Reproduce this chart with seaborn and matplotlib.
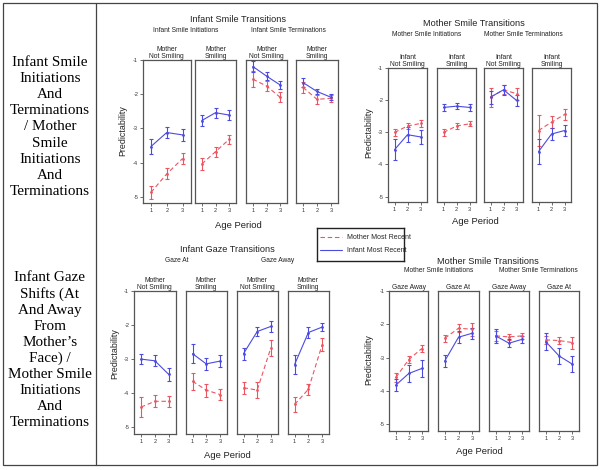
import numpy as np
import pandas as pd
import matplotlib
matplotlib.use("Agg")
import matplotlib.pyplot as plt
import seaborn as sns
from matplotlib.lines import Line2D
from matplotlib.patches import Rectangle

# ---------------------------------------------------------------
# Données : moyenne et demi-barre d'erreur
# ---------------------------------------------------------------
ages = [1, 2, 3]
sources = ["Mother Most Recent", "Infant Most Recent"]

# Infant Smile Transitions (haut gauche)
ist_labels = ["Mother\nNot Smiling", "Mother\nSmiling", "Mother\nNot Smiling", "Mother\nSmiling"]
ist_mother = [[-4.87, -4.33, -3.88], [-4.04, -3.68, -3.32], [-1.56, -1.76, -2.09], [-1.80, -2.15, -2.12]]
ist_mother_err = [[0.20, 0.16, 0.15], [0.17, 0.15, 0.13], [0.24, 0.15, 0.15], [0.15, 0.13, 0.10]]
ist_infant = [[-3.53, -3.12, -3.19], [-2.77, -2.54, -2.61], [-1.19, -1.47, -1.73], [-1.66, -1.92, -2.09]]
ist_infant_err = [[0.22, 0.17, 0.18], [0.17, 0.15, 0.14], [0.15, 0.11, 0.11], [0.13, 0.08, 0.09]]

# Mother Smile Transitions (haut droite)
mst_labels = ["Infant\nNot Smiling", "Infant\nSmiling", "Infant\nNot Smiling", "Infant\nSmiling"]
mst_mother = [[-3.00, -2.80, -2.72], [-3.00, -2.80, -2.73], [-1.90, -1.67, -1.79], [-2.94, -2.68, -2.44]]
mst_mother_err = [[0.10, 0.10, 0.10], [0.10, 0.08, 0.08], [0.30, 0.14, 0.19], [0.47, 0.18, 0.17]]
mst_infant = [[-3.54, -3.07, -3.14], [-2.22, -2.18, -2.22], [-1.90, -1.67, -2.00], [-3.60, -3.05, -2.94]]
mst_infant_err = [[0.32, 0.23, 0.22], [0.12, 0.10, 0.10], [0.20, 0.15, 0.16], [0.38, 0.18, 0.18]]

# Infant Gaze Transitions (bas gauche)
igt_labels = ["Mother\nNot Smiling", "Mother\nSmiling", "Mother\nNot Smiling", "Mother\nSmiling"]
igt_mother = [[-4.41, -4.24, -4.24], [-3.65, -3.91, -4.04], [-3.84, -3.91, -2.67], [-4.33, -3.89, -2.58]]
igt_mother_err = [[0.29, 0.18, 0.16], [0.25, 0.19, 0.17], [0.18, 0.23, 0.24], [0.21, 0.16, 0.19]]
igt_infant = [[-3.00, -3.05, -3.45], [-2.84, -3.14, -3.06], [-2.84, -2.19, -2.04], [-3.16, -2.22, -2.06]]
igt_infant_err = [[0.15, 0.16, 0.20], [0.27, 0.18, 0.17], [0.18, 0.14, 0.16], [0.29, 0.16, 0.12]]

# Mother Smile Transitions / regard (bas droite)
mgt_labels = ["Gaze Away", "Gaze At", "Gaze Away", "Gaze At"]
mgt_mother = [[-3.60, -3.06, -2.73], [-2.42, -2.12, -2.15], [-2.35, -2.38, -2.35], [-2.47, -2.49, -2.55]]
mgt_mother_err = [[0.13, 0.12, 0.10], [0.10, 0.12, 0.20], [0.14, 0.10, 0.10], [0.12, 0.10, 0.18]]
mgt_infant = [[-3.83, -3.48, -3.33], [-3.10, -2.39, -2.27], [-2.35, -2.57, -2.45], [-2.52, -2.95, -3.20]]
mgt_infant_err = [[0.18, 0.25, 0.26], [0.19, 0.18, 0.17], [0.20, 0.12, 0.10], [0.26, 0.24, 0.25]]

RED = "#EC5560"
BLUE = "#4B4BE2"
GREY = "#555555"
W, H = 602, 470

sns.set_theme(style="white")
plt.rcParams["font.family"] = ["Liberation Sans", "DejaVu Sans"]
plt.rcParams["axes.unicode_minus"] = False


def box(x0, x1, top, bottom):
    return [x0 / W, 1 - bottom / H, (x1 - x0) / W, (bottom - top) / H]


def ftext(x, y, s, **kw):
    fig.text(x / W, 1 - y / H, s, ha="center", va="center", **kw)


def draw_group(xs, top, bottom, ylim, labels, mother, merr, infant, ierr):
    axes = []
    for i, (x0, x1) in enumerate(xs):
        ax = fig.add_axes(box(x0, x1, top, bottom))
        df = pd.DataFrame({
            "Age": ages * 2,
            "Predictability": mother[i] + infant[i],
            "Source": [sources[0]] * 3 + [sources[1]] * 3,
        })
        sns.lineplot(data=df, x="Age", y="Predictability", hue="Source", style="Source",
                     palette={sources[0]: RED, sources[1]: BLUE},
                     dashes={sources[0]: (4, 2.5), sources[1]: ""},
                     linewidth=0.8, legend=False, ax=ax)
        ax.errorbar(ages, mother[i], yerr=merr[i], fmt="o", ms=1.0, color=RED,
                    elinewidth=0.8, capsize=1.6, capthick=0.8)
        ax.errorbar(ages, infant[i], yerr=ierr[i], fmt="o", ms=1.0, color=BLUE,
                    elinewidth=0.8, capsize=1.6, capthick=0.8)
        ax.set_xlim(0.5, 3.5)
        ax.set_ylim(*ylim)
        ax.set_xticks(ages)
        ax.set_yticks([-1, -2, -3, -4, -5])
        ax.set(xlabel="", ylabel="")
        ax.tick_params(axis="both", length=2, width=0.6, color=GREY, labelsize=4,
                       pad=1.5, labelcolor="#333333", bottom=True, left=(i == 0))
        if i > 0:
            ax.set_yticklabels([])
        for sp in ax.spines.values():
            sp.set_color(GREY)
            sp.set_linewidth(0.9)
        ax.text(0.5, 1.0, labels[i], transform=ax.transAxes, ha="center",
                va="bottom", fontsize=4.9, linespacing=0.95, color="#222222")
        axes.append(ax)
    return axes


fig = plt.figure(figsize=(W / 100, H / 100), dpi=100)

# Cadre du tableau
fig.add_artist(Rectangle((3 / W, 1 - 465 / H), 594 / W, 462 / H, transform=fig.transFigure,
                         fill=False, edgecolor="#444444", linewidth=0.9))
fig.add_artist(Line2D([96 / W, 96 / W], [1 - 3 / H, 1 - 465 / H], transform=fig.transFigure,
                      color="#444444", linewidth=0.9))

# Colonne gauche
serif = ["Liberation Serif", "DejaVu Serif"]
ftext(50, 127, "Infant Smile\nInitiations\nAnd\nTerminations\n/ Mother\nSmile\nInitiations\nAnd\nTerminations",
      family=serif, fontsize=10.9, linespacing=1.31, color="black")
ftext(50, 350, "Infant Gaze\nShifts (At\nAnd Away\nFrom\nMother\u2019s\nFace) /\nMother Smile\nInitiations\nAnd\nTerminations",
      family=serif, fontsize=10.9, linespacing=1.29, color="black")

# Haut gauche
draw_group([(143, 190.5), (195, 236), (246, 287), (296, 338)], 60, 203, (-5.18, -1.0),
           ist_labels, ist_mother, ist_mother_err, ist_infant, ist_infant_err)
ftext(238, 19, "Infant Smile Transitions", fontsize=6.6, color="#222222")
ftext(186, 30, "Infant Smile Initiations", fontsize=4.8, color="#222222")
ftext(288, 30, "Infant Smile Terminations", fontsize=4.8, color="#222222")
ftext(123, 131, "Predictability", fontsize=6.4, rotation=90, color="#222222")
ftext(238, 226, "Age Period", fontsize=6.8, color="#222222")

# Haut droite
draw_group([(388, 427), (437, 476), (484, 523), (532, 571)], 67.7, 202, (-5.17, -0.98),
           mst_labels, mst_mother, mst_mother_err, mst_infant, mst_infant_err)
ftext(474, 24, "Mother Smile Transitions", fontsize=6.6, color="#222222")
ftext(427, 35, "Mother Smile Initiations", fontsize=4.8, color="#222222")
ftext(523, 35, "Mother Smile Terminations", fontsize=4.8, color="#222222")
ftext(369, 133, "Predictability", fontsize=6.4, rotation=90, color="#222222")
ftext(475, 222, "Age Period", fontsize=6.8, color="#222222")

# Bas gauche
draw_group([(134, 175.7), (185.7, 226.7), (236.7, 277.7), (287.7, 329)], 291, 434, (-5.2, -1.0),
           igt_labels, igt_mother, igt_mother_err, igt_infant, igt_infant_err)
ftext(227, 250, "Infant Gaze Transitions", fontsize=6.6, color="#222222")
ftext(177, 261, "Gaze At", fontsize=4.8, color="#222222")
ftext(278, 261, "Gaze Away", fontsize=4.8, color="#222222")
ftext(115, 354, "Predictability", fontsize=6.4, rotation=90, color="#222222")
ftext(227, 456, "Age Period", fontsize=6.8, color="#222222")

# Bas droite
draw_group([(389.3, 428.3), (438, 479), (489, 529), (539, 579)], 291, 431, (-5.21, -1.0),
           mgt_labels, mgt_mother, mgt_mother_err, mgt_infant, mgt_infant_err)
ftext(488, 261, "Mother Smile Transitions", fontsize=6.6, color="#222222")
ftext(439, 271, "Mother Smile Initiations", fontsize=4.8, color="#222222")
ftext(538, 271, "Mother Smile Terminations", fontsize=4.8, color="#222222")
ftext(369, 360, "Predictability", fontsize=6.4, rotation=90, color="#222222")
ftext(479, 452, "Age Period", fontsize=6.8, color="#222222")

# Légende
lax = fig.add_axes(box(316.7, 404, 227.7, 260.7))
lax.set_xticks([])
lax.set_yticks([])
for sp in lax.spines.values():
    sp.set_color("#222222")
    sp.set_linewidth(1.0)
handles = [Line2D([], [], color=RED, linestyle=(0, (4, 2.5)), linewidth=0.8),
           Line2D([], [], color=BLUE, linewidth=0.8)]
lax.legend(handles, sources, loc="center left", frameon=False, fontsize=5,
           handlelength=3.2, handletextpad=0.6, labelspacing=0.8, borderaxespad=0.1)

fig.savefig("out.png", dpi=100)
plt.close(fig)
